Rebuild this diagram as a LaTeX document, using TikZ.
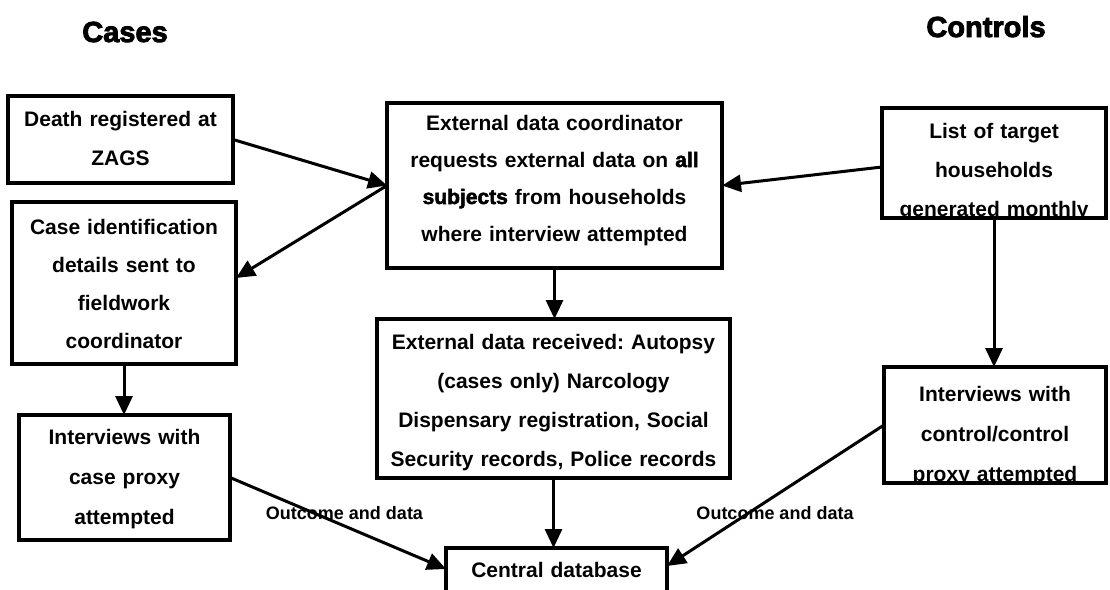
\documentclass[tikz,border=0pt]{standalone}
\usepackage{fontspec}
\setmainfont{Liberation Sans}
\newfontface\heavyfont[FakeBold=2.5]{Liberation Sans Bold}
\newfontface\headfont[FakeBold=3]{Liberation Sans Bold}
\usetikzlibrary{arrows.meta}

\tikzset{
  stage/.style={draw, line width=3.2pt, inner sep=0pt, outer sep=0pt, align=center,
    text height=13pt, font=\frenchspacing\bfseries\fontsize{21}{#1}\selectfont},
  stage/.default=39pt,
  flow/.style={line width=3pt, -{Triangle[length=19pt,width=17pt]}},
  heading/.style={font=\headfont\fontsize{29}{34}\selectfont, anchor=base, inner sep=0pt},
  tag/.style={font=\bfseries\fontsize{18}{20}\selectfont, inner sep=0pt},
}

\begin{document}
\begin{tikzpicture}[x=1pt,y=-1pt]
  \fill[white] (0,0) rectangle (1110,589);
  \useasboundingbox (0,0) rectangle (1110,589);

  % column headings
  \node[heading] (cases) at (125,42) {Cases};
  \node[heading] (controls) at (986,37) {Controls};

  % case side
  \node[stage, minimum width=225pt, minimum height=87pt, text width=219pt, text depth=40pt]
    (death) at (120.5,139.5) {Death registered at\\ZAGS};
  \node[stage=38pt, minimum width=224pt, minimum height=162pt, text width=218pt, text depth=111pt]
    (caseid) at (124,283) {Case identification\\details sent to\\fieldwork\\coordinator};
  \node[stage=40pt, minimum width=211pt, minimum height=125pt, text width=205pt, text depth=80pt]
    (caseint) at (124.5,477.5) {Interviews with\\case proxy\\attempted};

  % external data, middle column
  \node[stage=37pt, minimum width=335pt, minimum height=165pt, text width=329pt, text depth=124pt]
    (coord) at (554.5,185.5) {External data coordinator\\requests external data on {\heavyfont all}\\{\heavyfont subjects} from households\\where interview attempted};
  \node[stage, minimum width=353pt, minimum height=159pt, text width=347pt, text depth=112pt]
    (received) at (553.5,398.5) {External data received: Autopsy\\(cases only) Narcology\\Dispensary registration, Social\\Security records, Police records};
  \node[stage, minimum width=221pt, minimum height=48pt, text width=215pt, text depth=3pt]
    (central) at (556.5,572) {Central database};

  % control side
  \node[stage, minimum width=224pt, minimum height=110pt, text width=218pt, text depth=63pt]
    (list) at (994,163) {List of target\\households\\generated monthly};
  \node[stage=40pt, minimum width=222pt, minimum height=116pt, text width=216pt, text depth=61pt]
    (ctrlint) at (995,425) {Interviews with\\control/control\\proxy attempted};

  % the last lines of these two boxes are cut off at the bottom edge
  \fill[white] ([xshift=-3pt,yshift=-1.6pt]list.south west) rectangle ([xshift=3pt,yshift=-10pt]list.south east);
  \fill[white] ([xshift=-3pt,yshift=-1.6pt]ctrlint.south west) rectangle ([xshift=3pt,yshift=-10pt]ctrlint.south east);

  % connectors
  \draw[flow] (death.east) -- (coord.west);
  \draw[flow] (coord.west) -- ([yshift=5pt]caseid.east);
  \draw[flow] ([yshift=-4pt]list.west) -- (coord.east);
  \draw[flow] (coord.south) -- (coord.south |- received.north);
  \draw[flow] (caseid.south) -- (caseid.south |- caseint.north);
  \draw[flow] (list.south) -- (list.south |- ctrlint.north);
  \draw[flow] (received.south) -- (received.south |- central.north);
  \draw[flow] (caseint.east) -- ([yshift=3pt]central.west);
  \draw[flow] (ctrlint.west) -- ([yshift=6pt]central.east);

  % connector labels
  \node[tag] (lblcase) at (344.5,513) {Outcome and data};
  \node[tag] (lblctrl) at (775,513) {Outcome and data};
\end{tikzpicture}
\end{document}
